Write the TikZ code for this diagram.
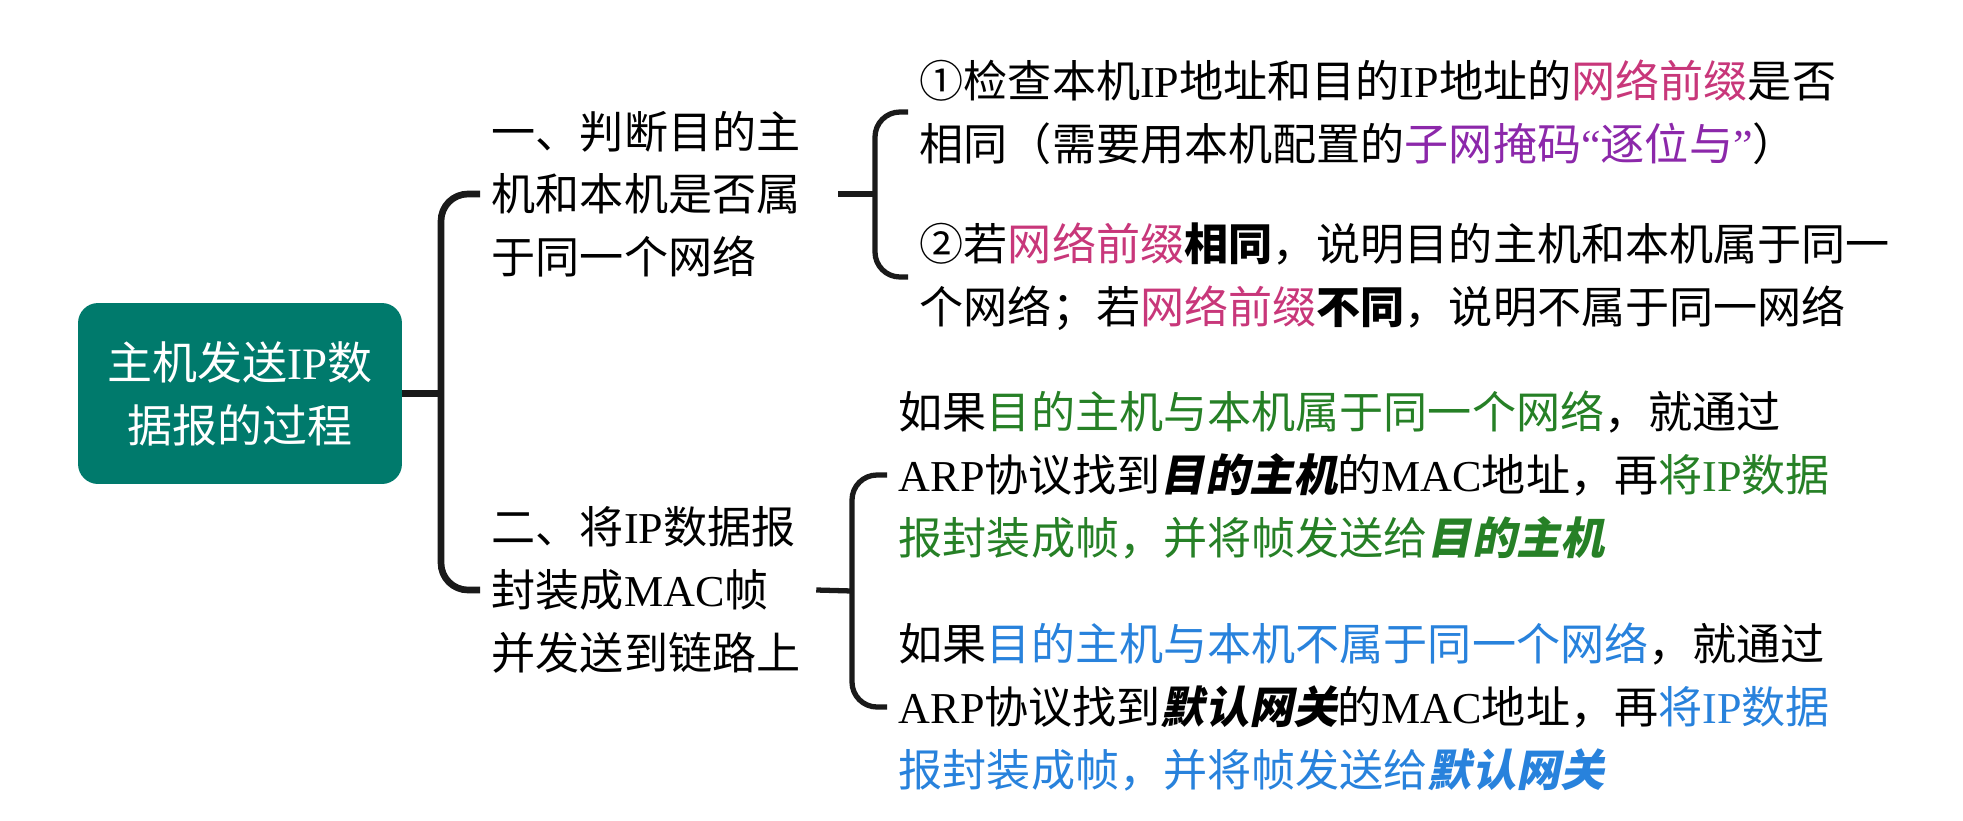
\documentclass[tikz,border=0pt]{standalone}
\usepackage{fontspec}
\setmainfont{Noto Sans CJK SC}
\newfontfamily\latinserif{Liberation Serif}
\newfontfamily\slantcjk[FakeSlant=0.2]{Noto Sans CJK SC}
\usepackage{xcolor}
\usepackage{tikz}
\usetikzlibrary{positioning,calc}

\definecolor{rootteal}{RGB}{0,122,108}
\definecolor{prefixpink}{RGB}{200,55,122}
\definecolor{maskpurple}{RGB}{140,40,170}
\definecolor{samegreen}{RGB}{38,128,38}
\definecolor{diffblue}{RGB}{40,130,220}
\definecolor{inkline}{RGB}{26,26,26}

\newcommand\lat[1]{{\latinserif #1}}
\newcommand\bislant[1]{{\slantcjk\bfseries #1}}

\begin{document}
\begin{tikzpicture}[x=0.02cm, y=-0.02cm,
    rootbox/.style={fill=rootteal, rounded corners=0.4cm, minimum width=6.48cm, minimum height=3.62cm, text=white, align=center, font=\fontsize{25.6pt}{35.7pt}\selectfont},
    branchtext/.style={anchor=west, align=left, inner xsep=6.5pt, inner ysep=0pt, font=\fontsize{25.1pt}{35.7pt}\selectfont},
    leaftext/.style={branchtext},
    mainline/.style={draw=inkline, line width=3.8pt, rounded corners=0.54cm},
    subline/.style={draw=inkline, line width=3pt, rounded corners=0.5cm}
]
\useasboundingbox (0,0) rectangle (1963,821);

\node[rootbox] (root) at (240,393.5) {主机发送\lat{IP}数\\据报的过程};

\coordinate (s1) at (441,393.5);
\node[branchtext] (b1) at (480,194) {一、判断目的主\\机和本机是否属\\于同一个网络};
\node[branchtext] (b2) at (480,590) {二、将\lat{IP}数据报\\封装成\lat{MAC}帧\\并发送到链路上};

\coordinate (s2) at (875,194);
\node[leaftext] (l1) at (908,112) {①检查本机\lat{IP}地址和目的\lat{IP}地址的{\color{prefixpink}网络前缀}是否\\相同（需要用本机配置的{\color{maskpurple}子网掩码\lat{“}逐位与\lat{”}}）};
\node[leaftext] (l2) at (908,277) {②若{\color{prefixpink}网络前缀}\textbf{相同}，说明目的主机和本机属于同一\\个网络；若{\color{prefixpink}网络前缀}\textbf{不同}，说明不属于同一网络};

\coordinate (s3) at (852,591);
\node[leaftext] (l3) at (887,475) {如果{\color{samegreen}目的主机与本机属于同一个网络}，就通过\\\lat{ARP}协议找到\bislant{目的主机}的\lat{MAC}地址，再{\color{samegreen}将\lat{IP}数据}\\{\color{samegreen}报封装成帧，并将帧发送给\bislant{目的主机}}};
\node[leaftext] (l4) at (887,707) {如果{\color{diffblue}目的主机与本机不属于同一个网络}，就通过\\\lat{ARP}协议找到\bislant{默认网关}的\lat{MAC}地址，再{\color{diffblue}将\lat{IP}数据}\\{\color{diffblue}报封装成帧，并将帧发送给\bislant{默认网关}}};

\draw[mainline] (root.east) -- (s1);
\draw[mainline] (b1.west) -| (s1) |- (b2.west);

\draw[subline] ([xshift=0.52cm]b1.east) -- (s2);
\draw[subline] (l1.west) -| (s2) |- (l2.west);

\draw[subline] ([xshift=0.08cm]b2.east) -- (s3);
\draw[subline] (l3.west) -| (s3) |- (l4.west);
\end{tikzpicture}
\end{document}
